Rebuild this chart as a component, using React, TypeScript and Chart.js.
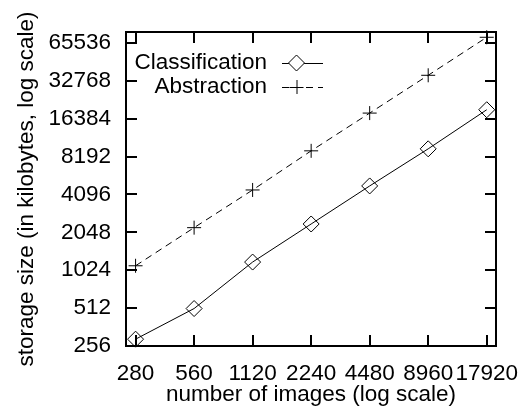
import React, { useEffect, useRef } from 'react';
import { Chart, registerables } from 'chart.js';

Chart.register(...registerables);

const imageCounts = [280, 560, 1120, 2240, 4480, 8960, 17920];
const classificationKB = [290, 508, 1189, 2386, 4785, 9437, 19295];
const abstractionKB = [1111, 2231, 4446, 9097, 18150, 36240, 72650];
const xTickValues = [280, 560, 1120, 2240, 4480, 8960, 17920];
const yTickValues = [256, 512, 1024, 2048, 4096, 8192, 16384, 32768, 65536];
const xRange = [250, 20000];
const yRange = [256, 80000];
const seriesNames = ['Classification', 'Abstraction'];
const xTitle = 'number of images (log scale)';
const yTitle = 'storage size (in kilobytes, log scale)';

const FONT = 'Liberation Sans, Arial, Helvetica, sans-serif';
const FS = 22.5;

const framePlugin = {
  id: 'gnuplotFrame',
  afterDatasetsDraw(chart: any) {
    const { ctx, chartArea } = chart;
    const { left, right, top, bottom } = chartArea;
    const xs = chart.scales.x;
    const ys = chart.scales.y;
    const tl = 11;
    ctx.save();
    ctx.strokeStyle = '#000';
    ctx.lineWidth = 2;
    ctx.beginPath();
    for (const v of yTickValues) {
      const p = Math.round(ys.getPixelForValue(v));
      ctx.moveTo(left, p);
      ctx.lineTo(left + tl, p);
      ctx.moveTo(right, p);
      ctx.lineTo(right - tl, p);
    }
    for (const v of xTickValues) {
      const p = Math.round(xs.getPixelForValue(v));
      ctx.moveTo(p, bottom);
      ctx.lineTo(p, bottom - tl);
      ctx.moveTo(p, top);
      ctx.lineTo(p, top + tl);
    }
    ctx.stroke();
    ctx.strokeRect(left, top, right - left, bottom - top);

    // legend
    const textRight = 267;
    const sx0 = 282;
    const sx1 = 323;
    const rows = [63, 87];
    ctx.font = `${FS}px ${FONT}`;
    ctx.fillStyle = '#000';
    ctx.textAlign = 'right';
    ctx.textBaseline = 'middle';
    chart.data.datasets.forEach((ds: any, i: number) => {
      const yy = rows[i];
      ctx.fillText(ds.label, textRight, yy);
      ctx.lineWidth = 1;
      ctx.setLineDash(ds.borderDash || []);
      ctx.beginPath();
      ctx.moveTo(sx0, yy + 0.5);
      ctx.lineTo(sx1, yy + 0.5);
      ctx.stroke();
      ctx.setLineDash([]);
      const cx = (sx0 + sx1) / 2 - 6;
      const r = ds.pointRadius;
      ctx.beginPath();
      if (ds.pointStyle === 'rectRot') {
        ctx.moveTo(cx, yy - r);
        ctx.lineTo(cx + r, yy);
        ctx.lineTo(cx, yy + r);
        ctx.lineTo(cx - r, yy);
        ctx.closePath();
        ctx.fillStyle = '#fff';
        ctx.fill();
      } else {
        ctx.moveTo(cx - r, yy + 0.5);
        ctx.lineTo(cx + r, yy + 0.5);
        ctx.moveTo(cx + 0.5, yy - r);
        ctx.lineTo(cx + 0.5, yy + r);
      }
      ctx.stroke();
      ctx.fillStyle = '#000';
    });
    ctx.restore();
  },
};

export default function App() {
  const canvasRef = useRef<HTMLCanvasElement | null>(null);

  useEffect(() => {
    const canvas = canvasRef.current;
    if (!canvas) return;
    const chart = new Chart(canvas, {
      type: 'line',
      data: {
        datasets: [
          {
            label: seriesNames[0],
            data: imageCounts.map((x, i) => ({ x, y: classificationKB[i] })),
            borderColor: '#000',
            borderWidth: 1,
            pointStyle: 'rectRot',
            pointRadius: 8,
            pointBorderWidth: 1,
            pointBorderColor: '#000',
            pointBackgroundColor: 'rgba(255,255,255,0)',
            fill: false,
            tension: 0,
            clip: false,
          } as any,
          {
            label: seriesNames[1],
            data: imageCounts.map((x, i) => ({ x, y: abstractionKB[i] })),
            borderColor: '#000',
            borderWidth: 1,
            borderDash: [7, 5],
            pointStyle: 'cross',
            pointRadius: 7,
            pointBorderWidth: 1,
            pointBorderColor: '#000',
            pointBackgroundColor: 'rgba(0,0,0,0)',
            fill: false,
            tension: 0,
            clip: false,
          } as any,
        ],
      },
      options: {
        responsive: false,
        animation: false,
        devicePixelRatio: 1,
        layout: { padding: { top: 32, right: 25, left: 0, bottom: 0 } },
        plugins: {
          legend: { display: false },
          tooltip: { enabled: false },
        },
        scales: {
          x: {
            type: 'logarithmic',
            min: xRange[0],
            max: xRange[1],
            grid: { display: false, drawTicks: false },
            border: { display: false },
            afterBuildTicks: (s: any) => {
              s.ticks = xTickValues.map((v) => ({ value: v }));
            },
            afterFit: (s: any) => {
              s.height = 60;
              s.paddingLeft = 0;
              s.paddingRight = 0;
            },
            ticks: {
              autoSkip: false,
              maxRotation: 0,
              minRotation: 0,
              padding: 14,
              color: '#000',
              font: { family: FONT, size: FS },
              callback: (v: any) => String(v),
            },
            title: {
              display: true,
              text: xTitle,
              color: '#000',
              font: { family: FONT, size: FS, lineHeight: 1 },
              padding: { top: 0, bottom: 0 },
            },
          },
          y: {
            type: 'logarithmic',
            min: yRange[0],
            max: yRange[1],
            grid: { display: false, drawTicks: false },
            border: { display: false },
            afterBuildTicks: (s: any) => {
              s.ticks = yTickValues.map((v) => ({ value: v }));
            },
            afterFit: (s: any) => {
              s.width = 126;
              s.paddingTop = 0;
              s.paddingBottom = 0;
            },
            ticks: {
              autoSkip: false,
              padding: 15,
              color: '#000',
              font: { family: FONT, size: FS },
              callback: (v: any) => String(v),
            },
            title: {
              display: true,
              text: yTitle,
              color: '#000',
              font: { family: FONT, size: FS, lineHeight: 1 },
              padding: { top: 16, bottom: 0 },
            },
          },
        },
      },
      plugins: [framePlugin],
    } as any);
    return () => chart.destroy();
  }, []);

  return (
    <div style={{ position: 'fixed', left: 0, top: 0, width: 521, height: 406, background: '#fff' }}>
      <canvas ref={canvasRef} width={521} height={406} />
    </div>
  );
}
